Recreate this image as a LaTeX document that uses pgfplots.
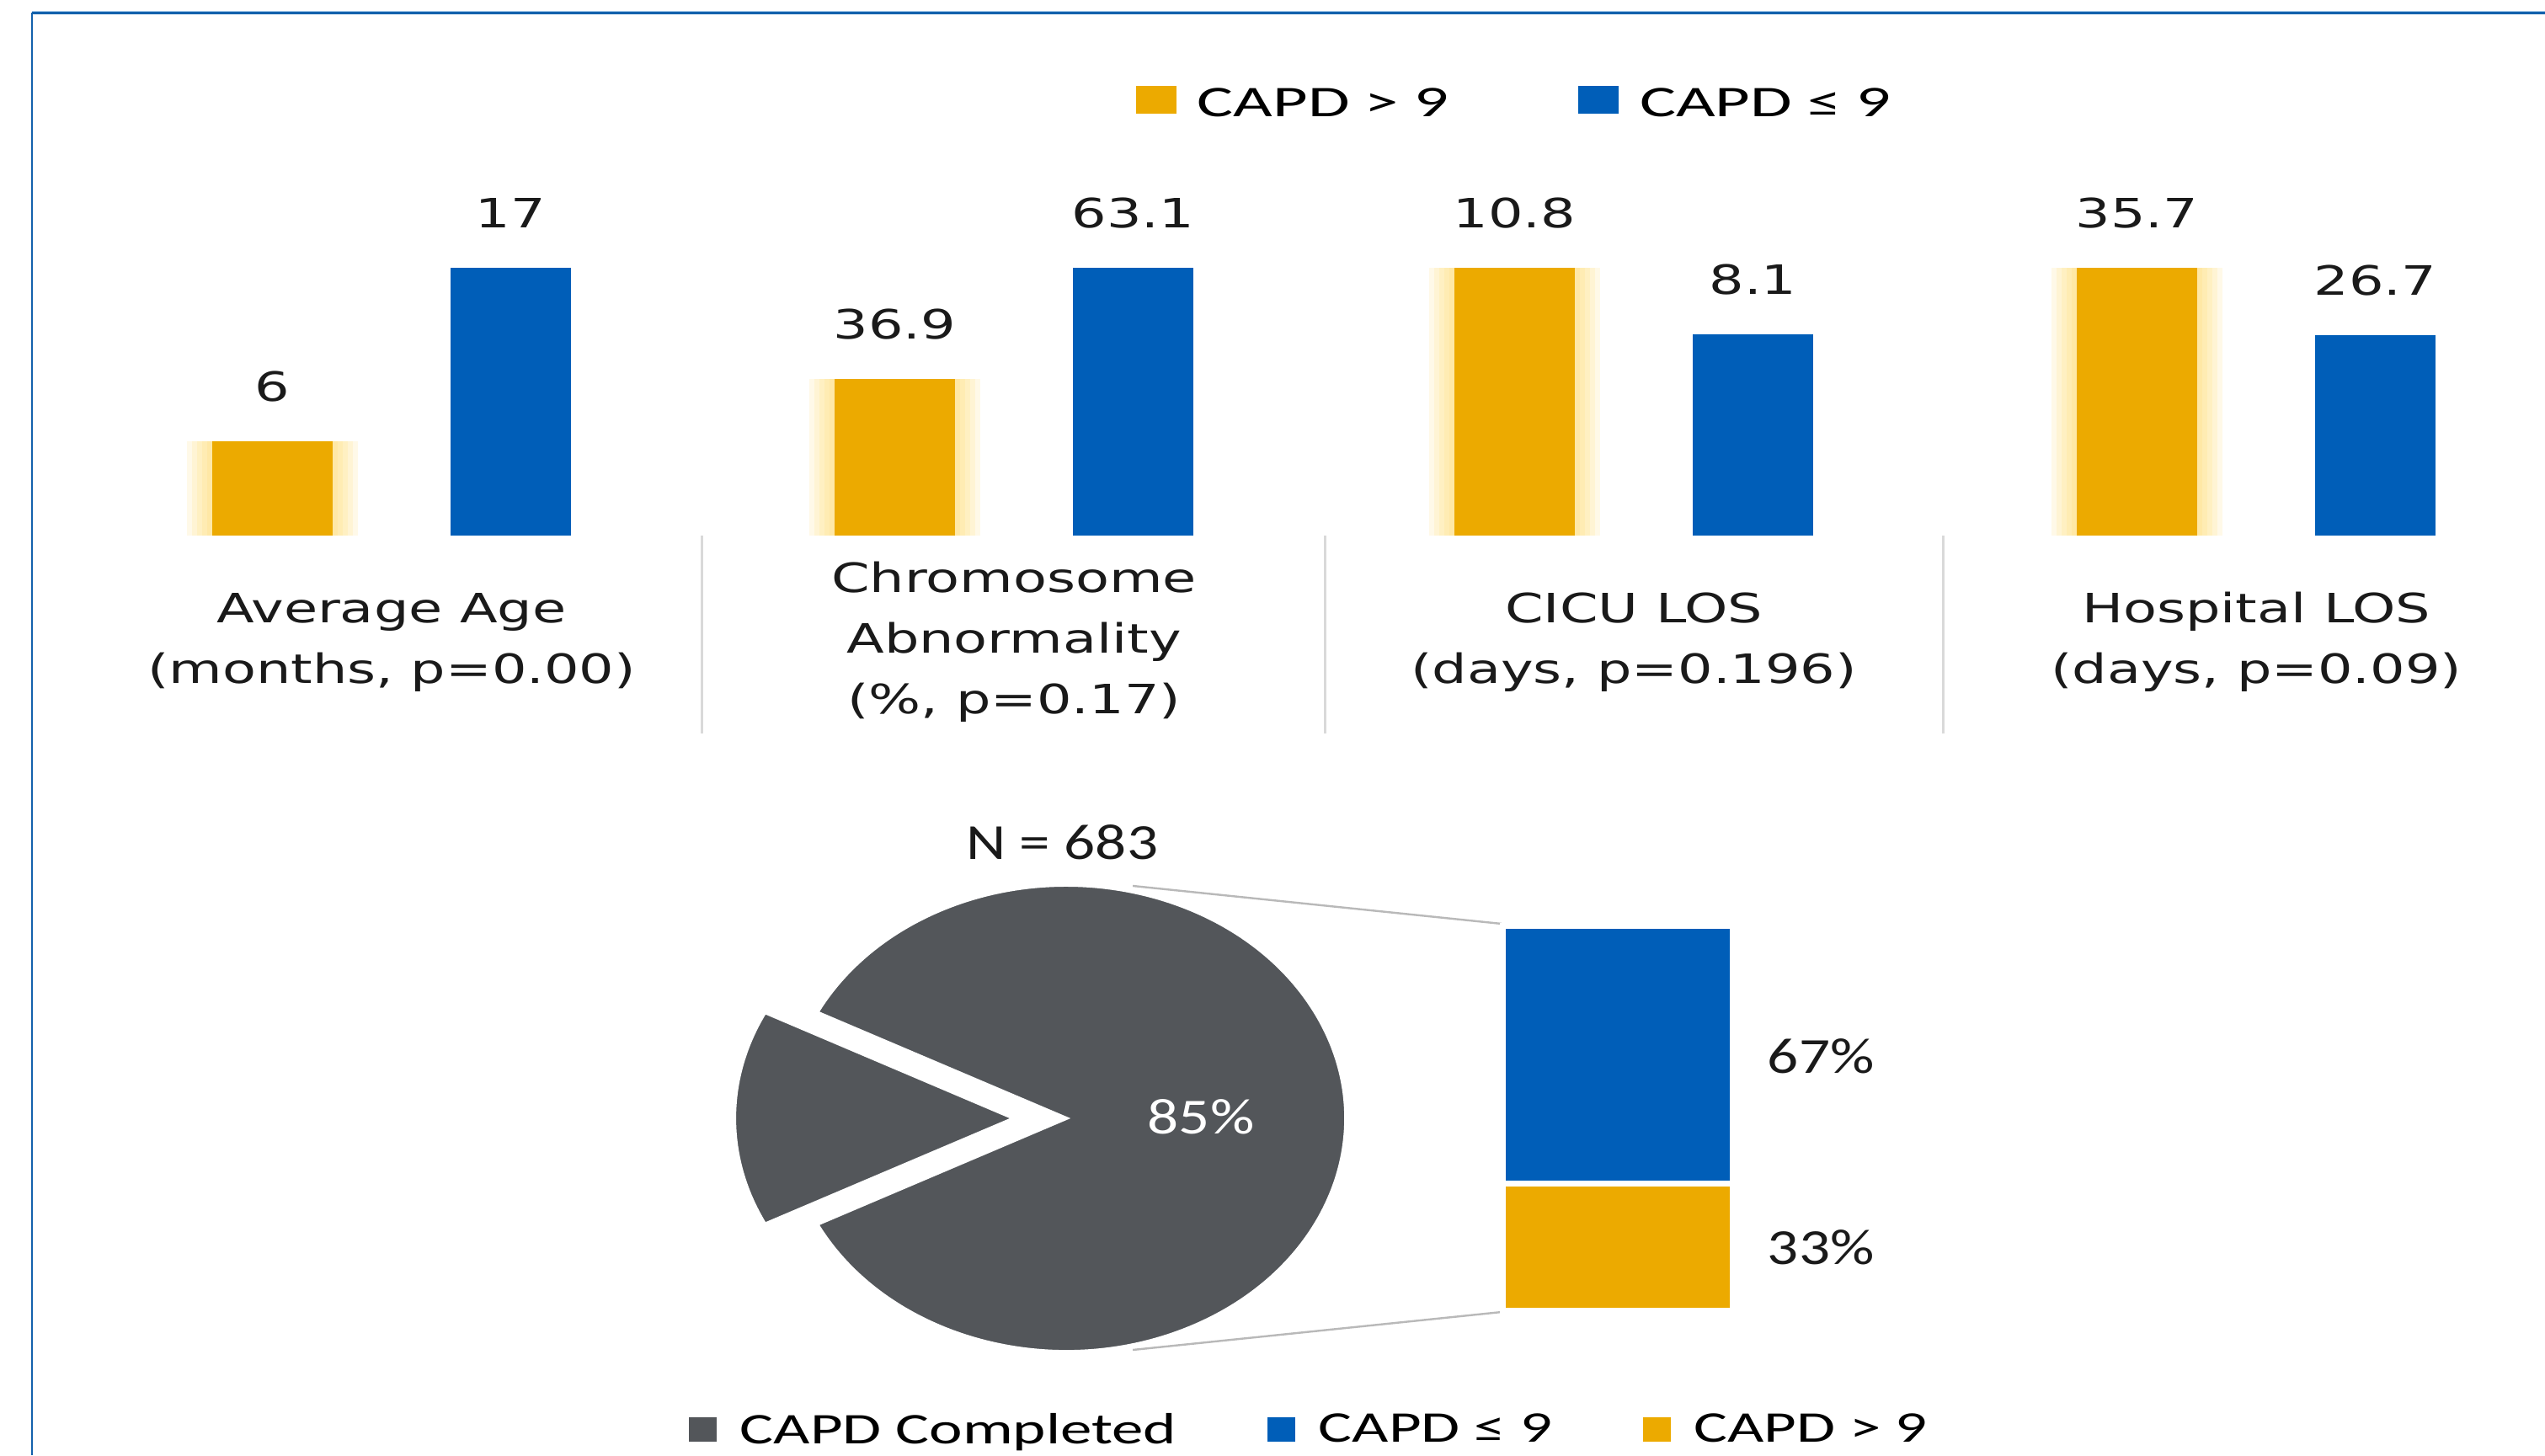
\documentclass[border=0pt]{standalone}
\usepackage{fontspec}
\usepackage{pgfplots}
\pgfplotsset{compat=1.18}
\setmainfont{DejaVu Sans}
\newfontfamily\topfont[FakeStretch=1.36]{DejaVu Sans}
\newfontfamily\tlegfont[FakeStretch=1.55]{Carlito}
\newfontfamily\blegfont[FakeStretch=1.44]{Carlito}
\newfontfamily\piefont[FakeStretch=1.22]{Carlito}
\definecolor{cgold}{HTML}{ECAA00}
\definecolor{cglow}{HTML}{FFD24D}
\definecolor{cblue}{HTML}{005EB8}
\definecolor{cgray}{HTML}{53565A}
\definecolor{csep}{HTML}{D9D9D9}
\definecolor{cframe}{HTML}{1361AC}
\definecolor{cframelight}{HTML}{9DC3E6}
\definecolor{ctext}{HTML}{1A1A1A}

\pgfplotsset{
  grp/.style={
    scale only axis, width=184.5pt, height=79.5pt,
    xmin=-0.804, xmax=1.804, ymin=0,
    hide axis, clip=false, anchor=south,
    bar width=35.75pt,
    nodes near coords, point meta=explicit symbolic,
    every node near coord/.append style={font=\topfont\fontsize{12}{12}\selectfont,
      anchor=center, yshift=16.25pt, text=ctext},
  },
  gl/.style={ybar, forget plot, fill=cglow, draw=none, fill opacity=0.13,
    point meta=y, nodes near coords={}},
}
% soft glow behind a gold bar (same value as the bar)
\newcommand\glow[1]{%
  \addplot[gl, bar width=50.75pt] coordinates {#1};
  \addplot[gl, bar width=47.75pt] coordinates {#1};
  \addplot[gl, bar width=44.75pt] coordinates {#1};
  \addplot[gl, bar width=41.75pt] coordinates {#1};
  \addplot[gl, bar width=38.75pt] coordinates {#1};
}

\begin{document}
\begin{tikzpicture}
\path[use as bounding box] (0,0) rectangle (755.5pt,432pt);

% ---------- overlay axis in image pixel units ----------
\begin{axis}[
  at={(0pt,0pt)}, anchor=south west,
  scale only axis, width=755.5pt, height=432pt,
  xmin=0, xmax=3022, ymin=0, ymax=1728,
  hide axis, clip=false,
  legend columns=3,
  legend style={draw=none, fill=none, at={(0.514,0.0168)}, anchor=center,
    font=\blegfont\fontsize{13}{13}\selectfont, inner sep=0pt,
    nodes={inner sep=0pt},
    /tikz/every odd column/.append style={column sep=7pt},
    /tikz/every even column/.append style={column sep=27pt}},
]
% frame
\draw[cframelight, line width=0.3pt] (axis cs:38,1714.6) -- (axis cs:3022,1714.6);
\draw[cframe, line width=0.7pt] (axis cs:38,1712.6) -- (axis cs:3022,1712.6);
\draw[cframe, line width=0.35pt] (axis cs:38,1713) -- (axis cs:38,0);
% separators
\draw[csep, line width=0.75pt] (axis cs:833,1092) -- (axis cs:833,857);
\draw[csep, line width=0.75pt] (axis cs:1573,1092) -- (axis cs:1573,857);
\draw[csep, line width=0.75pt] (axis cs:2307,1092) -- (axis cs:2307,857);
% category labels
\begin{scope}[every node/.style={font=\topfont\fontsize{12}{18}\selectfont, align=center, text=ctext}]
\node at (axis cs:465,965.5) {Average Age\\(months, p=0.00)};
\node at (axis cs:1204,965.5) {Chromosome\\Abnormality\\(\%, p=0.17)};
\node at (axis cs:1940,965.5) {CICU LOS\\(days, p=0.196)};
\node at (axis cs:2679,965.5) {Hospital LOS\\(days, p=0.09)};
\end{scope}
% pie: 85% completed (main), 15% exploded slice
\fill[cgray, draw=white, line width=1pt] (axis cs:1266,400) -- (axis cs:970.2,274.2)
  arc[start angle=207, end angle=513, x radius=83pt, y radius=69.25pt] -- cycle;
\fill[cgray, draw=white, line width=1pt] (axis cs:1204,400) -- (axis cs:908.2,525.8)
  arc[start angle=153, end angle=207, x radius=83pt, y radius=69.25pt] -- cycle;
% connectors
\draw[gray!55, line width=0.6pt] (axis cs:1345,676) -- (axis cs:1783,631);
\draw[gray!55, line width=0.6pt] (axis cs:1345,125) -- (axis cs:1783,170);
% pie labels
\node[font=\piefont\fontsize{15}{15}\selectfont, text=ctext] at (axis cs:1261,728) {N = 683};
\node[font=\piefont\fontsize{15}{15}\selectfont, text=white] at (axis cs:1426,402) {85\%};
\node[font=\piefont\fontsize{15}{15}\selectfont, text=ctext, anchor=west, inner sep=0pt] at (axis cs:2098,474) {67\%};
\node[font=\piefont\fontsize{15}{15}\selectfont, text=ctext, anchor=west, inner sep=0pt] at (axis cs:2098,247) {33\%};
% bottom legend
\addlegendimage{legend image code/.code={\fill[cgray] (0pt,-3.1pt) rectangle (7.75pt,3.9pt);}}
\addlegendentry{CAPD Completed}
\addlegendimage{legend image code/.code={\fill[cblue] (0pt,-3.1pt) rectangle (7.75pt,3.9pt);}}
\addlegendentry{CAPD ≤ 9}
\addlegendimage{legend image code/.code={\fill[cgold] (0pt,-3.1pt) rectangle (7.75pt,3.9pt);}}
\addlegendentry{CAPD > 9}
\end{axis}

% ---------- stacked bar (CAPD completed split) ----------
\begin{axis}[
  at={(480.25pt,42.875pt)}, anchor=south,
  scale only axis, width=68.25pt, height=114.25pt,
  xmin=-0.5, xmax=0.5, ymin=0, ymax=100,
  hide axis, clip=false,
  ybar stacked, bar width=68.25pt,
]
\addplot[fill=cgold, draw=white, line width=1.75pt] coordinates {(0,33)};
\addplot[fill=cblue, draw=white, line width=1.75pt] coordinates {(0,67)};
\end{axis}

% ---------- group 1: Average Age ----------
\begin{axis}[grp, at={(116.25pt,273pt)}, ymax=17,
  legend columns=2,
  legend image code/.code={\fill[#1] (0pt,-2.65pt) rectangle (12pt,5.65pt);},
  legend style={draw=none, fill=none, at={(2.305,1.613)}, anchor=center,
    font=\tlegfont\fontsize{13}{13}\selectfont, inner sep=0pt,
    nodes={inner sep=0pt},
    /tikz/every odd column/.append style={column sep=6.25pt},
    /tikz/every even column/.append style={column sep=38.5pt}},
]
\glow{(0,6)}
\addplot[ybar, fill=cgold, draw=none] coordinates {(0,6) [6]};
\addplot[ybar, fill=cblue, draw=none] coordinates {(1,17) [17]};
\legend{CAPD > 9, CAPD ≤ 9}
\end{axis}

% ---------- group 2: Chromosome Abnormality ----------
\begin{axis}[grp, at={(301pt,273pt)}, ymax=63.1]
\glow{(0,36.9)}
\addplot[ybar, fill=cgold, draw=none] coordinates {(0,36.9) [36.9]};
\addplot[ybar, fill=cblue, draw=none] coordinates {(1,63.1) [63.1]};
\end{axis}

% ---------- group 3: CICU LOS ----------
\begin{axis}[grp, at={(485pt,273pt)}, ymax=10.8]
\glow{(0,10.8)}
\addplot[ybar, fill=cgold, draw=none] coordinates {(0,10.8) [10.8]};
\addplot[ybar, fill=cblue, draw=none] coordinates {(1,8.1) [8.1]};
\end{axis}

% ---------- group 4: Hospital LOS ----------
\begin{axis}[grp, at={(669.75pt,273pt)}, ymax=35.7]
\glow{(0,35.7)}
\addplot[ybar, fill=cgold, draw=none] coordinates {(0,35.7) [35.7]};
\addplot[ybar, fill=cblue, draw=none] coordinates {(1,26.7) [26.7]};
\end{axis}
\end{tikzpicture}
\end{document}
